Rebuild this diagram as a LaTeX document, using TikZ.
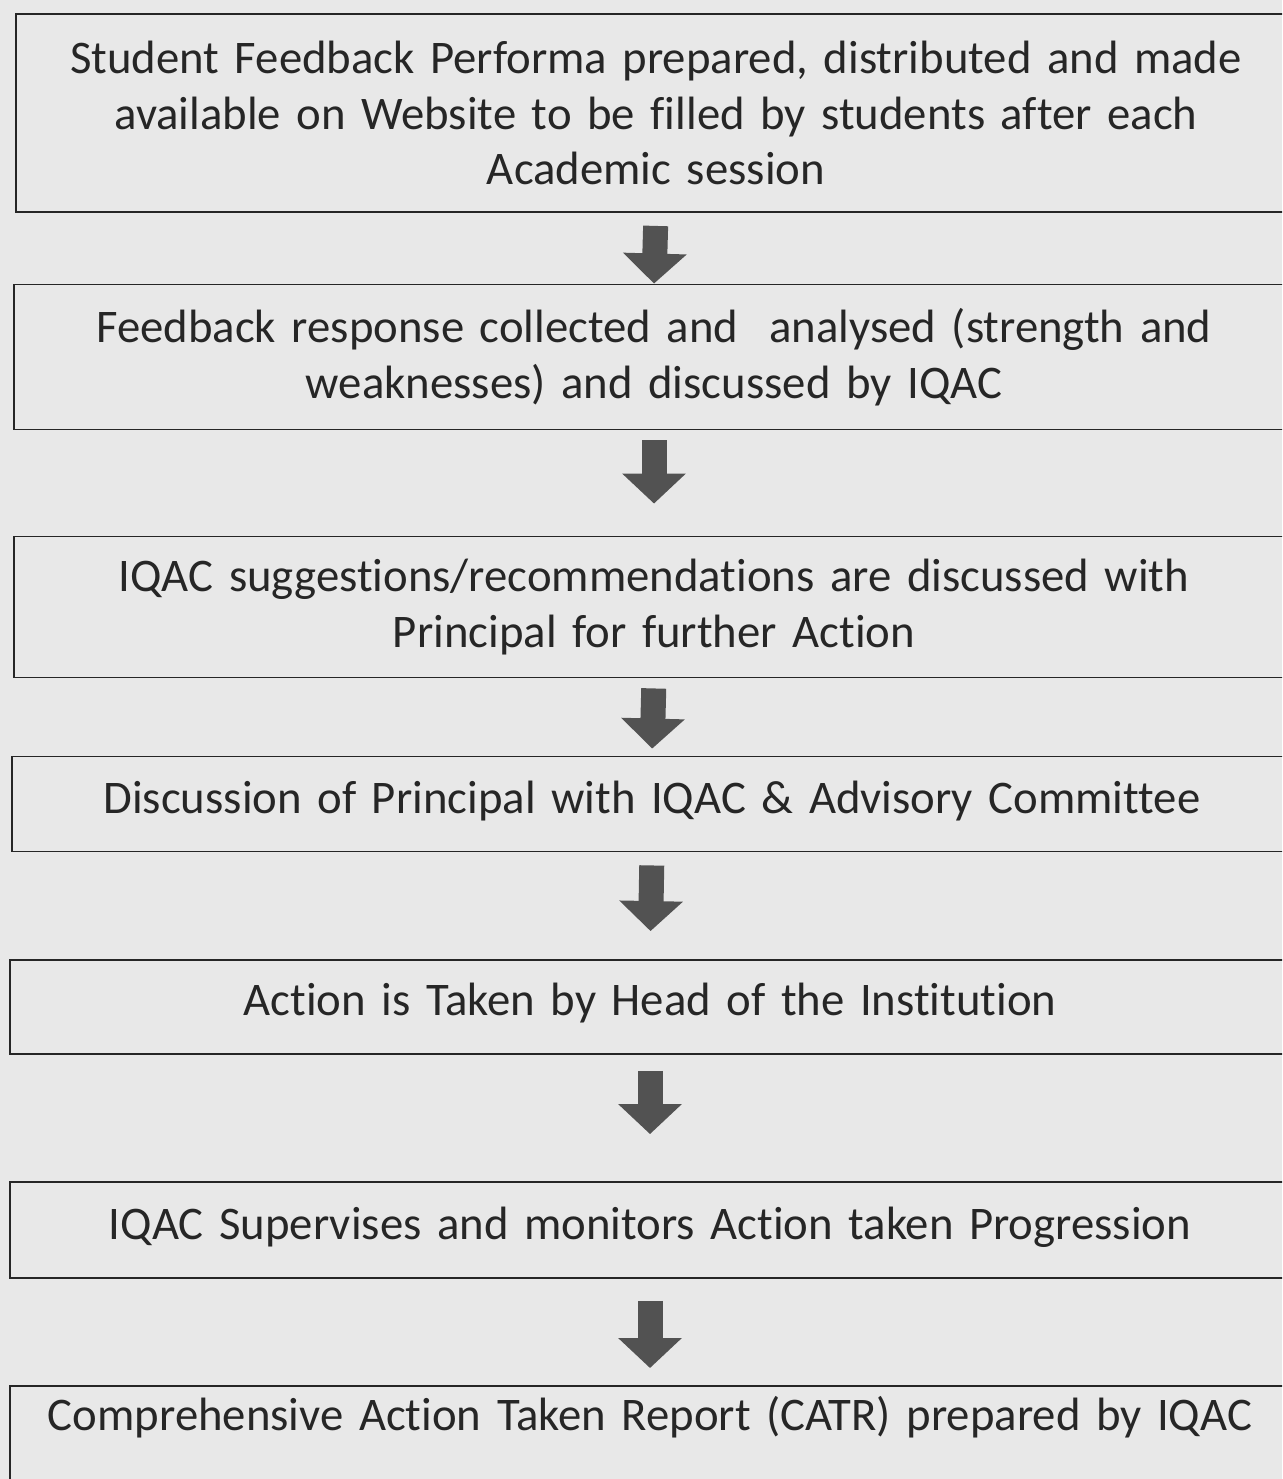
\documentclass[tikz,border=0pt]{standalone}
\usepackage{fontspec}
\setmainfont{Carlito}[Ligatures=NoCommon]
\usetikzlibrary{arrows.meta, positioning}
\tikzset{
  stage/.style={draw=black!85, line width=1.1pt, rectangle, align=center,
    minimum width=25.6cm, text width=25cm, inner xsep=0.3cm,
    font=\fontsize{26.6}{31.7}\selectfont, text=black!85}, % one step of the process
  flow/.style={-{Triangle[length=0.6cm,width=1.24cm]}, line width=0.5cm,
    draw=black!68}, % thick down arrow between steps
}
\begin{document}
\begin{tikzpicture}[x=0.02cm,y=-0.02cm]
  \fill[black!9] (0,0) rectangle (1282,1479);
  \useasboundingbox (0,0) rectangle (1282,1479);
  \clip (0,0) rectangle (1282,1479);

  \node[stage, minimum height=3.96cm] (feedback) at (656,113)
    {Student Feedback Performa prepared, distributed and made\\
     available on Website to be filled by students after each\\
     Academic session};
  \node[stage, minimum height=2.9cm] (analysed) at (654,357)
    {Feedback response collected and \ analysed (strength and\\
     weaknesses) and discussed by IQAC};
  \node[stage, minimum height=2.82cm] (suggest) at (654,607)
    {IQAC suggestions/recommendations are discussed with\\
     Principal for further Action};
  \node[stage, minimum height=1.9cm, text depth=0.25cm] (discuss) at (652,804)
    {Discussion of Principal with IQAC \& Advisory Committee};
  \node[stage, minimum height=1.88cm, text depth=0.3cm] (action) at (650,1007)
    {Action is Taken by Head of the Institution};
  \node[stage, minimum height=1.92cm, text depth=0.25cm] (monitor) at (650,1230)
    {IQAC Supervises and monitors Action taken Progression};
  \node[stage, anchor=north, inner ysep=0pt, text height=0.9cm, text depth=1.6cm]
    (catr) at (650,1385)
    {Comprehensive Action Taken Report (CATR) prepared by IQAC};

  \draw[flow, shorten <=0.26cm] (feedback.south) -- (analysed.north);
  \draw[flow, shorten <=0.2cm, shorten >=0.64cm] (analysed.south) -- (suggest.north);
  \draw[flow, shorten <=0.2cm, shorten >=0.14cm] (suggest.south) -- (discuss.north);
  \draw[flow, shorten <=0.26cm, shorten >=0.56cm] (discuss.south) -- (action.north);
  \draw[flow, shorten <=0.32cm, shorten >=0.94cm] (action.south) -- (monitor.north);
  \draw[flow, shorten <=0.44cm, shorten >=0.34cm] (monitor.south) -- (catr.north);
\end{tikzpicture}
\end{document}
